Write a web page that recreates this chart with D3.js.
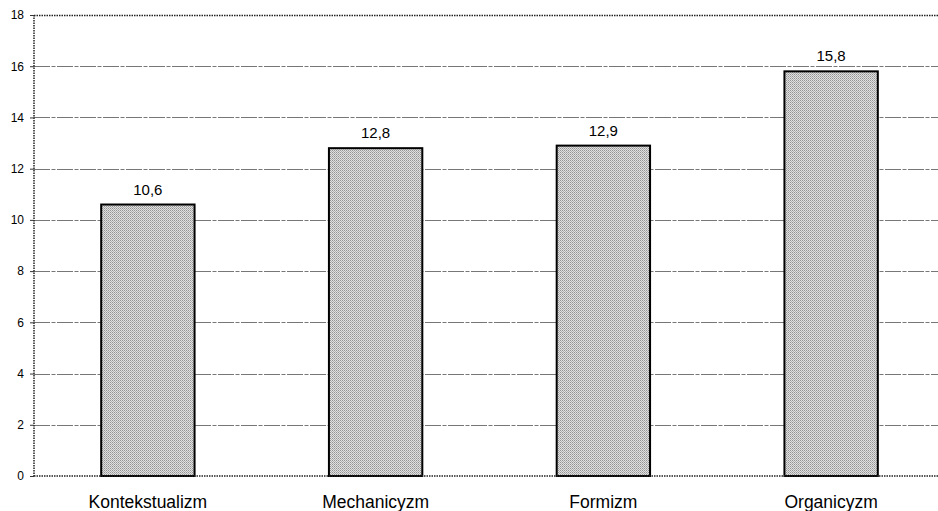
<!DOCTYPE html>
<html>
<head>
<meta charset="utf-8">
<script src="https://cdn.jsdelivr.net/npm/d3@7"></script>
<style>
  body { margin: 0; background: #fff; }
  svg { display: block; }
</style>
</head>
<body>
<div id="chart"></div>
<script>
// data
const categories = ['Kontekstualizm', 'Mechanicyzm', 'Formizm', 'Organicyzm'];
const values = [10.6, 12.8, 12.9, 15.8];
const valueLabels = ['10,6', '12,8', '12,9', '15,8'];
const yTicks = [0, 2, 4, 6, 8, 10, 12, 14, 16, 18];

const width = 938;
const height = 511;
const plotLeft = 34;
const plotRight = 945;
const plotTop = 15;
const plotBottom = 476;

const xScale = d3.scaleBand()
    .domain(categories)
    .range([plotLeft, plotRight])
    .paddingInner(0.59)
    .paddingOuter(0.295);

const yScale = d3.scaleLinear()
    .domain([0, 18])
    .range([plotBottom, plotTop]);

const svg = d3.select('#chart')
  .append('svg')
    .attr('width', width)
    .attr('height', height);

// dither-like pattern for bars
const pat = svg.append('defs').append('pattern')
    .attr('id', 'dither')
    .attr('width', 2)
    .attr('height', 2)
    .attr('patternUnits', 'userSpaceOnUse');
pat.append('rect').attr('width', 2).attr('height', 2).attr('fill', '#e0e0e0');
pat.append('rect').attr('width', 1).attr('height', 1).attr('fill', '#949494');
pat.append('rect').attr('x', 1).attr('y', 1).attr('width', 1).attr('height', 1).attr('fill', '#b0b0b0');

// gridlines
svg.append('g')
  .selectAll('line')
  .data(yTicks.filter(d => d > 0 && d < 18))
  .join('line')
    .attr('x1', plotLeft)
    .attr('x2', plotRight)
    .attr('y1', d => Math.round(yScale(d)) + 0.5)
    .attr('y2', d => Math.round(yScale(d)) + 0.5)
    .attr('stroke', '#777')
    .attr('stroke-width', 1)
    .attr('stroke-dasharray', '16,1.5,4,1.5');

// top border
svg.append('line')
    .attr('x1', plotLeft).attr('x2', plotRight)
    .attr('y1', Math.round(yScale(18)) + 0.5).attr('y2', Math.round(yScale(18)) + 0.5)
    .attr('stroke', '#222')
    .attr('stroke-width', 1.5)
    .attr('stroke-dasharray', '1.5,1');

// y axis
const yAxis = svg.append('g')
    .attr('transform', `translate(${plotLeft},0)`)
    .call(d3.axisLeft(yScale).tickValues(yTicks).tickSize(4).tickPadding(6).tickFormat(d3.format('d')));
yAxis.select('.domain')
    .attr('stroke', '#222')
    .attr('stroke-width', 1.5)
    .attr('stroke-dasharray', '1.5,1')
    .attr('d', `M0,${plotTop}V${plotBottom}`);
yAxis.selectAll('.tick line').attr('stroke', '#333');
yAxis.selectAll('.tick text')
    .style('font', '12px Arial, "Liberation Sans", sans-serif')
    .attr('fill', '#000');

// bars
svg.append('g')
  .selectAll('rect')
  .data(values)
  .join('rect')
    .attr('x', (d, i) => xScale(categories[i]))
    .attr('y', d => yScale(d))
    .attr('width', xScale.bandwidth())
    .attr('height', d => plotBottom - yScale(d))
    .attr('fill', 'url(#dither)')
    .attr('stroke', '#000')
    .attr('stroke-width', 2);

// bottom axis line
svg.append('line')
    .attr('x1', plotLeft).attr('x2', plotRight)
    .attr('y1', plotBottom).attr('y2', plotBottom)
    .attr('stroke', '#222')
    .attr('stroke-width', 1.5)
    .attr('stroke-dasharray', '1.5,1');

// value labels
svg.append('g')
  .selectAll('text')
  .data(values)
  .join('text')
    .attr('x', (d, i) => xScale(categories[i]) + xScale.bandwidth() / 2)
    .attr('y', d => yScale(d) - 10)
    .attr('text-anchor', 'middle')
    .style('font', '15px Arial, "Liberation Sans", sans-serif')
    .text((d, i) => valueLabels[i]);

// category labels
svg.append('g')
  .selectAll('text')
  .data(categories)
  .join('text')
    .attr('x', d => xScale(d) + xScale.bandwidth() / 2)
    .attr('y', 508)
    .attr('text-anchor', 'middle')
    .style('font', '17.5px Arial, "Liberation Sans", sans-serif')
    .text(d => d);
</script>
</body>
</html>
